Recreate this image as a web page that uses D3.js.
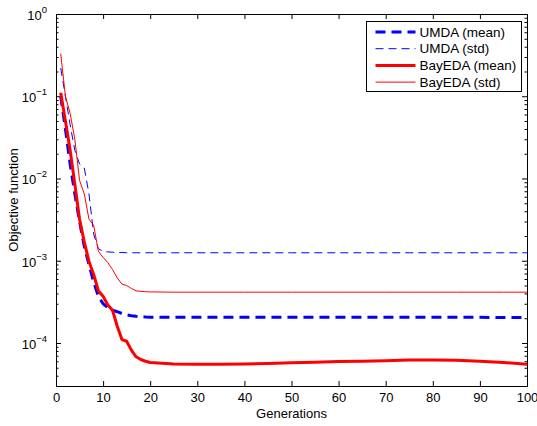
<!DOCTYPE html>
<html>
<head>
<meta charset="utf-8">
<title>eda-convergence</title>
<script src="https://cdn.jsdelivr.net/npm/d3@7"></script>
<style>
  body { margin: 0; background: #fff; }
  svg text { font-family: "Liberation Sans", Arial, Helvetica, sans-serif; fill: #000; }
  .tick line { stroke: #000; }
</style>
</head>
<body>
<svg id="chart" width="537" height="426"></svg>
<script>
var gens = [1, 2, 3, 4, 5, 6, 7, 8, 9, 10, 11, 12, 13, 14, 15, 16, 17, 18, 19, 20,
            25, 30, 35, 40, 45, 50, 55, 60, 65, 70, 75, 80, 85, 90, 95, 100];

var umdaMean = [0.1, 0.04, 0.015, 0.0065, 0.003, 0.0015, 0.0009, 0.00055, 0.00037, 0.0003,
                0.00027, 0.00025, 0.00024, 0.000228, 0.00022, 0.000215, 0.000211, 0.000209, 0.000207, 0.000206,
                0.000205, 0.000205, 0.000205, 0.000205, 0.000205, 0.000205, 0.000205, 0.000205, 0.000205, 0.000205,
                0.000205, 0.000205, 0.000205, 0.000205, 0.000204, 0.000204];

var umdaStd = [0.22, 0.1, 0.045, 0.022, 0.015, 0.0135, 0.0065, 0.0021, 0.0014, 0.0013,
               0.00128, 0.00127, 0.00126, 0.00126, 0.00125, 0.00125, 0.00125, 0.00125, 0.00125, 0.00125,
               0.00125, 0.00125, 0.00125, 0.00125, 0.00125, 0.00125, 0.00125, 0.00125, 0.00125, 0.00125,
               0.00125, 0.00125, 0.00125, 0.00125, 0.00125, 0.00125];

var bayMean = [0.11, 0.05, 0.022, 0.0085, 0.0032, 0.0017, 0.00098, 0.00068, 0.00043, 0.00037,
               0.00029, 0.00025, 0.00016, 0.00011, 0.000105, 0.000082, 0.000068, 0.000063, 0.00006, 0.000058,
               0.0000555, 0.000055, 0.000055, 0.0000555, 0.0000565, 0.0000575, 0.0000585, 0.0000595, 0.00006, 0.000061,
               0.000062, 0.000062, 0.0000615, 0.00006, 0.000058, 0.000055];

var bayStd = [0.33, 0.1, 0.062, 0.03, 0.0095, 0.0065, 0.0032, 0.0027, 0.0013, 0.0011,
              0.00095, 0.00078, 0.00062, 0.00052, 0.0005, 0.00046, 0.00043, 0.000425, 0.00042, 0.000418,
              0.000415, 0.000415, 0.000415, 0.000415, 0.000415, 0.000415, 0.000415, 0.000415, 0.000415, 0.000415,
              0.000415, 0.000415, 0.000415, 0.000415, 0.000415, 0.000415];

var xTicks = [0, 10, 20, 30, 40, 50, 60, 70, 80, 90, 100];
var yMajor = [1, 1e-1, 1e-2, 1e-3, 1e-4];
var yExp = ["0", "\u22121", "\u22122", "\u22123", "\u22124"];

var series = [
  {name: "UMDA (mean)", values: umdaMean, color: "#0000ff", width: 3, dash: "10,6"},
  {name: "UMDA (std)", values: umdaStd, color: "#0000ff", width: 1, dash: "8,5"},
  {name: "BayEDA (mean)", values: bayMean, color: "#ff0000", width: 3, dash: null},
  {name: "BayEDA (std)", values: bayStd, color: "#ff0000", width: 1, dash: null}
];

// plot box edges
var pl = 56, pt = 14, pr = 527, pb = 386;
var svg = d3.select("#chart");

var x = d3.scaleLinear().domain([0, 100]).range([pl, pr]);
var y = d3.scaleLog().domain([3e-5, 1]).range([pb, pt]);

var minor = y.ticks().filter(function(v){
  return !yMajor.some(function(m){ return Math.abs(m - v) / m < 1e-9; });
});

svg.append("rect")
  .attr("x", pl).attr("y", pt)
  .attr("width", pr - pl).attr("height", pb - pt)
  .attr("fill", "#fff");

// axes, ticks point inward like matlab
function drawAxis(axis, tx, ty) {
  var g = svg.append("g").attr("transform", "translate(" + tx + "," + ty + ")").call(axis);
  g.select(".domain").remove();
  return g;
}

var gx = drawAxis(d3.axisBottom(x).tickValues(xTicks).tickSizeInner(-5).tickSizeOuter(0).tickPadding(7), 0, pb);
gx.selectAll("text").style("font-size", "13px");
drawAxis(d3.axisTop(x).tickValues(xTicks).tickSizeInner(-5).tickSizeOuter(0).tickFormat(""), 0, pt);

drawAxis(d3.axisLeft(y).tickValues(yMajor).tickSizeInner(-5).tickSizeOuter(0).tickFormat(""), pl, 0);
drawAxis(d3.axisLeft(y).tickValues(minor).tickSizeInner(-2.5).tickSizeOuter(0).tickFormat(""), pl, 0);
drawAxis(d3.axisRight(y).tickValues(yMajor).tickSizeInner(-5).tickSizeOuter(0).tickFormat(""), pr, 0);
drawAxis(d3.axisRight(y).tickValues(minor).tickSizeInner(-2.5).tickSizeOuter(0).tickFormat(""), pr, 0);

// y tick labels with superscripts
var ylab = svg.selectAll("text.ylab").data(yMajor).enter().append("text")
  .attr("class", "ylab")
  .attr("x", 47)
  .attr("y", function(d){ return y(d) + 6; })
  .attr("text-anchor", "end")
  .style("font-size", "13px")
  .text("10");
ylab.append("tspan")
  .attr("dy", -7)
  .style("font-size", "9.5px")
  .text(function(d, i){ return yExp[i]; });

// lines
svg.append("clipPath").attr("id", "clip").append("rect")
  .attr("x", pl).attr("y", pt).attr("width", pr - pl).attr("height", pb - pt);

var line = d3.line()
  .x(function(d, i){ return x(gens[i]); })
  .y(function(d){ return y(d); });

svg.append("g").attr("clip-path", "url(#clip)")
  .selectAll("path").data(series).enter().append("path")
  .attr("d", function(s){ return line(s.values); })
  .attr("fill", "none")
  .attr("stroke", function(s){ return s.color; })
  .attr("stroke-width", function(s){ return s.width; })
  .attr("stroke-dasharray", function(s){ return s.dash; })
  .attr("stroke-linejoin", "round");

// box
svg.append("rect")
  .attr("x", pl + 0.5).attr("y", pt + 0.5)
  .attr("width", pr - pl).attr("height", pb - pt)
  .attr("fill", "none").attr("stroke", "#000").attr("stroke-width", 1);

// axis titles
svg.append("text")
  .attr("x", (pl + pr) / 2).attr("y", 418)
  .attr("text-anchor", "middle")
  .style("font-size", "13px")
  .text("Generations");

svg.append("text")
  .attr("transform", "translate(18," + ((pt + pb) / 2) + ") rotate(-90)")
  .attr("text-anchor", "middle")
  .style("font-size", "13px")
  .text("Objective function");

// legend
var lg = svg.append("g").attr("transform", "translate(366.5,21.5)");
lg.append("rect").attr("width", 155).attr("height", 70)
  .attr("fill", "#fff").attr("stroke", "#000").attr("stroke-width", 1);
var item = lg.selectAll("g.item").data(series).enter().append("g")
  .attr("class", "item")
  .attr("transform", function(d, i){ return "translate(0," + (10.5 + i * 16.7) + ")"; });
item.append("line")
  .attr("x1", 9).attr("x2", 49)
  .attr("stroke", function(s){ return s.color; })
  .attr("stroke-width", function(s){ return s.width; })
  .attr("stroke-dasharray", function(s){ return s.dash; });
item.append("text")
  .attr("x", 53).attr("y", 4.5)
  .style("font-size", "13.5px")
  .text(function(s){ return s.name; });
</script>
</body>
</html>
